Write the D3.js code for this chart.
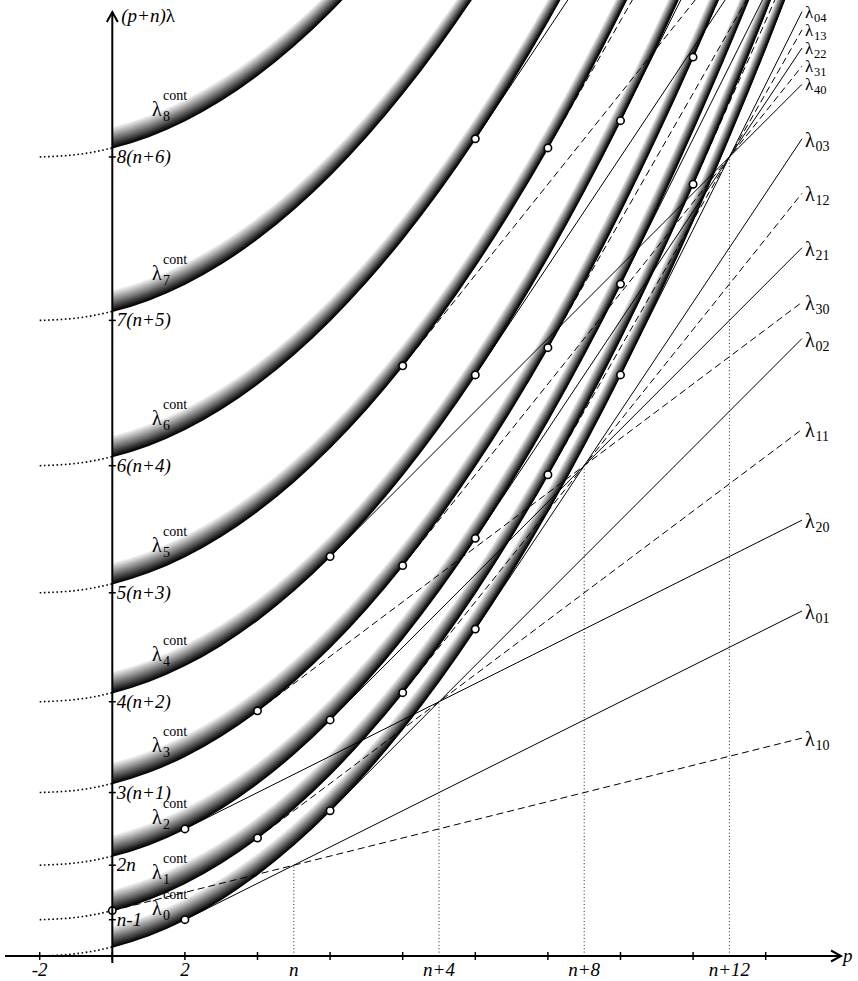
<!DOCTYPE html>
<html>
<head>
<meta charset="utf-8">
<script src="https://cdn.jsdelivr.net/npm/d3@7"></script>
<style>
  html, body { margin: 0; padding: 0; background: #fff; }
  svg { display: block; }
  text { font-family: "Liberation Serif", "Times New Roman", serif; fill: #000; }
</style>
</head>
<body>
<svg id="chart" width="858" height="981"></svg>
<script>
// ---- data -------------------------------------------------------------
// p axis: tick marks and labelled positions (n = 5)
const pTickMarks = [-2, 0, 2, 4, 6, 8, 10, 12, 14, 16, 18];
const pLabelValues = [-2, 2, 5, 9, 13, 17];
const pLabelText = ["-2", "2", "n", "n+4", "n+8", "n+12"];

// levels k(k+n-2) on the vertical axis
const levelValues = [4, 10, 18, 28, 40, 54, 70, 88];
const levelLabels = ["n-1", "2n", "3(n+1)", "4(n+2)", "5(n+3)", "6(n+4)", "7(n+5)", "8(n+6)"];

// continuous thresholds λ_k^cont, k = 0..8: starting level at p = -2 and common rise along p
const contIndex = [0, 1, 2, 3, 4, 5, 6, 7, 8];
const contStart = [0, 4, 10, 18, 28, 40, 54, 70, 88];
const contP = [-2, -1, 0, 1, 2, 3, 4, 5, 6, 7, 8, 9, 10, 11, 12, 13, 14, 15, 16, 17, 18, 19];
const contRise = [0, 0.25, 1, 2.25, 4, 6.25, 9, 12.25, 16, 20.25, 25, 30.25, 36, 42.25,
                  49, 56.25, 64, 72.25, 81, 90.25, 100, 110.25];

// branches λ_ij: start (touching point on a threshold) and value at the right end
const modeNames  = ["10", "01", "20", "11", "02", "30", "21", "12", "03", "40", "31", "22", "13", "04",
                    "50", "41", "32", "23", "14", "60", "51", "42", "33"];
const modeStartP = [0, 2, 2, 4, 6, 4, 6, 8, 10, 6, 8, 10, 12, 14,
                    8, 10, 12, 14, 16, 10, 12, 14, 16];
const modeStartV = [5, 4, 14, 13, 16, 27, 26, 29, 36, 44, 43, 46, 53, 64,
                    65, 64, 67, 74, 85, 90, 89, 92, 99];
const modeEndP   = [19, 19, 19, 19, 19, 19, 19, 19, 19, 19, 19, 19, 19, 19,
                    19, 19, 19, 19, 19, 19, 19, 19, 19];
const modeEndV   = [24, 38, 48, 58, 68, 72, 78, 84, 90, 96, 98, 100, 102, 104,
                    120, 118, 116, 114, 112, 144, 138, 132, 126];
const labelledModes = ["10", "01", "20", "11", "02", "30", "21", "12", "03", "40", "31", "22", "13", "04"];

// points where branches of equal order i+j meet
const crossP = [5, 9, 13, 17];
const crossV = [10, 28, 54, 88];

// ---- scales -----------------------------------------------------------
const W = 858, H = 981;
const x = d3.scaleLinear().domain([-2, 19]).range([39.7, 802]);
const y = d3.scaleLinear().domain([0, 100]).range([956, 48]);
const X0 = x(0), Y0 = y(0);

const svg = d3.select("#chart");
const defs = svg.append("defs");
defs.append("clipPath").attr("id", "clipRight")
  .append("rect").attr("x", X0).attr("y", -20).attr("width", W).attr("height", H + 40);
defs.append("clipPath").attr("id", "clipLeft")
  .append("rect").attr("x", 0).attr("y", -20).attr("width", X0).attr("height", H + 40);

const curve = d3.line().x(d => x(d[0])).y(d => y(d[1])).curve(d3.curveNatural);
const thresholdPoints = (level, lift) => contP.map((p, i) => [p, level + contRise[i] + lift]);

// ---- shaded threshold bands (dark on the curve, fading upward) ---------
const bandThickness = 2.2;   // in value units
const bandSteps = 28;
const shade = d3.scaleLinear().domain([0, 1]).range(["#080808", "#f0f0f0"]);
const bandLayer = svg.append("g").attr("clip-path", "url(#clipRight)");
contStart.forEach(level => {
  const g = bandLayer.append("g");
  for (let s = bandSteps - 1; s >= 0; s--) {
    const t = s / (bandSteps - 1);
    g.append("path")
      .attr("d", curve(thresholdPoints(level, t * bandThickness)))
      .attr("fill", "none")
      .attr("stroke", shade(t))
      .attr("stroke-width", 1.5);
  }
});

// dotted continuation for p < 0
const dotLayer = svg.append("g").attr("clip-path", "url(#clipLeft)");
contStart.forEach(level => {
  dotLayer.append("path")
    .attr("d", curve(thresholdPoints(level, 0)))
    .attr("fill", "none")
    .attr("stroke", "#000")
    .attr("stroke-width", 1.6)
    .attr("stroke-dasharray", "1.6,2.6");
});

// vertical dotted guides at the meeting points
svg.append("g").selectAll("line").data(crossP).join("line")
  .attr("x1", d => x(d)).attr("x2", d => x(d))
  .attr("y1", Y0).attr("y2", (d, i) => y(crossV[i]))
  .attr("stroke", "#222").attr("stroke-width", 1)
  .attr("stroke-dasharray", "1,2.4");

// ---- branches λ_ij ----------------------------------------------------
const modeLayer = svg.append("g");
modeNames.forEach((nm, i) => {
  const oddI = (+nm[0]) % 2 === 1;
  modeLayer.append("line")
    .attr("x1", x(modeStartP[i])).attr("y1", y(modeStartV[i]))
    .attr("x2", x(modeEndP[i])).attr("y2", y(modeEndV[i]))
    .attr("stroke", "#000").attr("stroke-width", 1)
    .attr("stroke-dasharray", oddI ? "7,4" : null);
});

// touching points
svg.append("g").selectAll("circle").data(modeNames).join("circle")
  .attr("cx", (d, i) => x(modeStartP[i]))
  .attr("cy", (d, i) => y(modeStartV[i]))
  .attr("r", 3.7)
  .attr("fill", "#fff").attr("stroke", "#000").attr("stroke-width", 1.6);

// ---- axes ---------------------------------------------------------------
const axes = svg.append("g").attr("stroke", "#000").attr("fill", "none");
axes.append("line").attr("x1", 5).attr("x2", 840).attr("y1", Y0).attr("y2", Y0).attr("stroke-width", 2);
axes.append("path").attr("d", `M831,${Y0 - 5.5} L841,${Y0} L831,${Y0 + 5.5}`).attr("stroke-width", 2);
axes.append("line").attr("x1", X0).attr("x2", X0).attr("y1", 963).attr("y2", 12).attr("stroke-width", 2);
axes.append("path").attr("d", `M${X0 - 5.5},22 L${X0},12 L${X0 + 5.5},22`).attr("stroke-width", 2);

axes.selectAll("line.xt").data(pTickMarks).join("line").attr("class", "xt")
  .attr("x1", d => x(d)).attr("x2", d => x(d))
  .attr("y1", Y0 - 4).attr("y2", Y0 + 4).attr("stroke-width", 1.5);
axes.selectAll("line.yt").data(levelValues).join("line").attr("class", "yt")
  .attr("x1", X0 - 3.5).attr("x2", X0 + 3.5)
  .attr("y1", d => y(d)).attr("y2", d => y(d)).attr("stroke-width", 1.5);

const labels = svg.append("g");
labels.selectAll("text.xl").data(pLabelValues).join("text").attr("class", "xl")
  .attr("x", d => x(d)).attr("y", 976)
  .attr("text-anchor", "middle")
  .attr("font-style", "italic").attr("font-size", 19)
  .text((d, i) => pLabelText[i]);

labels.selectAll("text.yl").data(levelValues).join("text").attr("class", "yl")
  .attr("x", X0 + 4.5).attr("y", d => y(d) + 6)
  .attr("font-style", "italic").attr("font-size", 19)
  .text((d, i) => levelLabels[i]);

labels.append("text").attr("x", 843).attr("y", 962)
  .attr("font-style", "italic").attr("font-size", 19).text("p");

const yTitle = labels.append("text").attr("x", X0 + 9).attr("y", 22).attr("font-size", 19);
yTitle.append("tspan").attr("font-style", "italic").text("(p+n)");
yTitle.append("tspan").text("λ");

// threshold labels λ_k^cont
contIndex.forEach((k, i) => {
  const base = y(contStart[i] + 2.4) - 19;   // 2.4: rise of the threshold at p ≈ 1.1
  labels.append("text").attr("x", 152).attr("y", base).attr("font-size", 20).text("λ");
  labels.append("text").attr("x", 163).attr("y", base + 5).attr("font-size", 14).text(k);
  labels.append("text").attr("x", 163).attr("y", base - 16).attr("font-size", 14).text("cont");
});

// branch labels at the right end (the top five sit close together, so slightly smaller)
modeNames.forEach((nm, i) => {
  if (!labelledModes.includes(nm)) return;
  const yy = y(modeEndV[i]);
  const tight = modeEndV[i] >= 96;
  labels.append("text").attr("x", 805).attr("y", yy + (tight ? 6 : 8))
    .attr("font-size", tight ? 17 : 20).text("λ");
  labels.append("text").attr("x", tight ? 814 : 815.5).attr("y", yy + (tight ? 10 : 12))
    .attr("font-size", tight ? 12.5 : 14).text(nm);
});
</script>
</body>
</html>
